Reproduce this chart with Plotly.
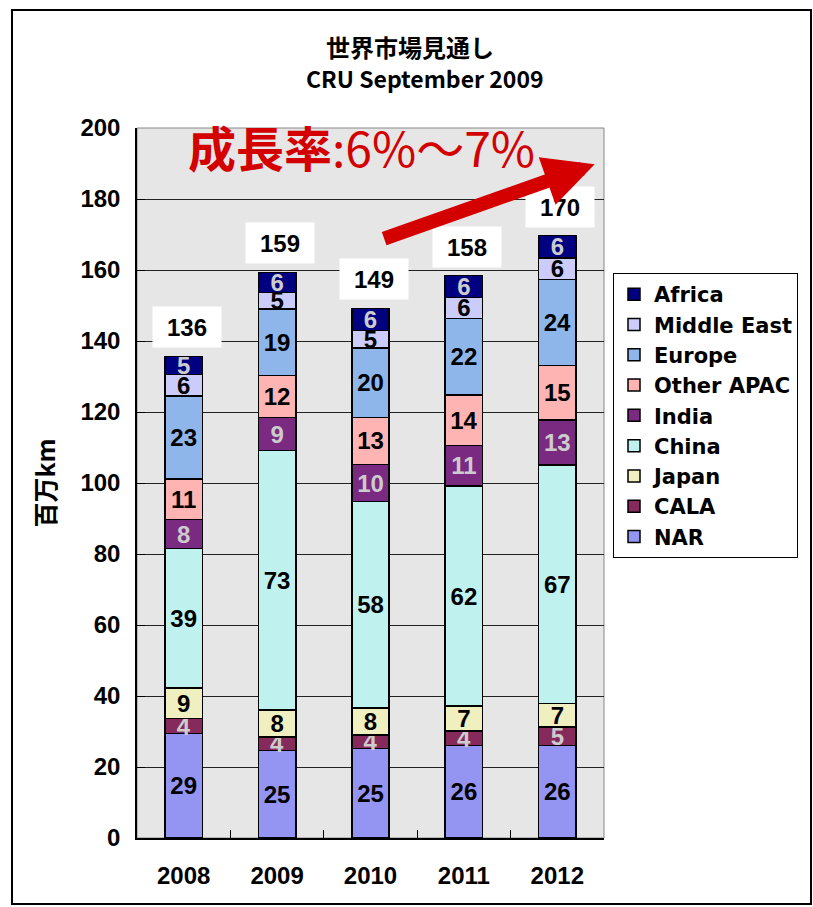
import plotly.graph_objects as go

years = ["2008", "2009", "2010", "2011", "2012"]

# values (百万km); labels in the picture are these rounded
nar = [29.4, 24.7, 25.2, 26.1, 26.1]
cala = [4.2, 3.8, 3.8, 4.1, 5.2]
japan = [8.7, 7.6, 7.6, 7.0, 6.6]
china = [39.2, 73.0, 58.2, 61.9, 67.2]
india = [8.2, 9.4, 10.4, 11.4, 12.6]
other_apac = [11.4, 11.8, 13.3, 14.3, 15.4]
europe = [23.4, 18.7, 19.5, 21.6, 24.2]
middle_east = [6.0, 4.6, 5.0, 5.8, 6.1]
africa = [5.2, 5.7, 6.2, 6.2, 6.3]

series = [
    ("NAR", nar, "#9494f2", "black"),
    ("CALA", cala, "#862a5c", "#cccccc"),
    ("Japan", japan, "#f0efc0", "black"),
    ("China", china, "#bff2ee", "black"),
    ("India", india, "#7a2a80", "#cccccc"),
    ("Other APAC", other_apac, "#ffb4b4", "black"),
    ("Europe", europe, "#8fb6ea", "black"),
    ("Middle East", middle_east, "#ccccfa", "black"),
    ("Africa", africa, "#000080", "#cccccc"),
]

CJK = "Noto Sans CJK JP"
NUM = "Liberation Sans"
LEG = "DejaVu Sans"
xpos = list(range(len(years)))

fig = go.Figure()
# empty entry that only adds blank space at the bottom of the legend box
fig.add_trace(go.Bar(x=[], y=[], name=" ", marker=dict(color="rgba(0,0,0,0)",
                                                    line=dict(width=0)),
                     showlegend=True, hoverinfo="skip"))
for name, vals, color, tcol in series:
    fig.add_trace(go.Bar(
        x=xpos, y=vals, name=name,
        marker=dict(color=color, line=dict(color="black", width=1.5)),
        text=[f"{v:.0f}" for v in vals],
        textposition="inside", insidetextanchor="middle", textangle=0,
        constraintext="none",
        textfont=dict(color=tcol, size=24, family=NUM, weight="bold"),
        width=0.4,
    ))

totals = [sum(s[1][i] for s in series) for i in range(len(years))]
annotations = []
for i, t in enumerate(totals):
    annotations.append(dict(
        x=xpos[i], y=t, xref="x", yref="y", text=f"<b>{t:.0f}</b>",
        showarrow=False, yshift=29, xshift=3, bgcolor="white",
        width=66, height=38, align="center", valign="middle",
        font=dict(size=24, color="black", family=NUM),
    ))

# growth arrow
annotations.append(dict(
    x=4.4, y=189.8, xref="x", yref="y", ax=-212, ay=75, axref="pixel", ayref="pixel",
    showarrow=True, arrowhead=2, arrowsize=0.72, arrowwidth=14, arrowcolor="#d40000",
    text="",
))
annotations.append(dict(
    x=1.9, y=195, xref="x", yref="y", showarrow=False,
    xanchor="center", yanchor="middle",
    text="<b>成長率</b>:6%～7%",
    font=dict(size=48, color="#d40000", family=CJK),
))
# titles
annotations.append(dict(
    x=(410 - 137) / 467, y=(838 - 47) / 710, xref="paper", yref="paper", showarrow=False,
    xanchor="center", yanchor="middle",
    text="<b>世界市場見通し</b>", font=dict(size=24, color="black", family=CJK),
))
annotations.append(dict(
    x=(425 - 137) / 467, y=(838 - 78) / 710, xref="paper", yref="paper", showarrow=False,
    xanchor="center", yanchor="middle",
    text="<b>CRU September 2009</b>", font=dict(size=23, color="black", family=CJK),
))

fig.update_layout(
    width=813, height=907,
    margin=dict(l=137, r=209, t=128, b=69, autoexpand=False),
    barmode="stack",
    paper_bgcolor="white",
    plot_bgcolor="#e6e6e6",
    font=dict(family=CJK, color="black"),
    uniformtext=dict(minsize=24, mode="show"),
    showlegend=True,
    legend=dict(
        x=(613 - 137) / 467, y=(838 - 273) / 710, xanchor="left", yanchor="top",
        traceorder="reversed", bordercolor="black", borderwidth=1, bgcolor="white",
        font=dict(size=21, family=LEG, weight="bold"), itemwidth=30,
        tracegroupgap=0,
    ),
    annotations=annotations,
    shapes=[
        dict(type="rect", xref="paper", yref="paper",
             x0=(12 - 137) / 467, x1=(811 - 137) / 467,
             y0=(838 - 904) / 710, y1=(838 - 10) / 710,
             line=dict(color="black", width=2), fillcolor="rgba(0,0,0,0)", layer="below"),
        dict(type="rect", xref="paper", yref="paper", x0=0, x1=1, y0=0, y1=1,
             line=dict(color="#888888", width=1), fillcolor="rgba(0,0,0,0)", layer="below"),
    ],
)
fig.update_yaxes(
    range=[0, 200], dtick=20, showgrid=True, gridcolor="#222222", gridwidth=1,
    showline=True, linecolor="black", linewidth=1.5, ticks="inside", ticklen=8,
    tickcolor="black", ticklabelstandoff=10,
    tickfont=dict(size=24, family=NUM, weight="bold"),
    title=dict(text="<b>百万km</b>", font=dict(size=25, family=CJK), standoff=18),
    zeroline=False, mirror=False,
)
fig.update_xaxes(
    range=[-0.5, len(years) - 0.5], tickvals=xpos, ticktext=years,
    showline=True, linecolor="black", linewidth=1.5, showgrid=False, zeroline=False,
    tickfont=dict(size=24, family=NUM, weight="bold"),
    ticks="", ticklabelstandoff=15,
    minor=dict(tickvals=[p + 0.5 for p in xpos[:-1]], ticks="inside", ticklen=8,
               tickcolor="black", showgrid=False),
)

fig.write_html("out.html")
